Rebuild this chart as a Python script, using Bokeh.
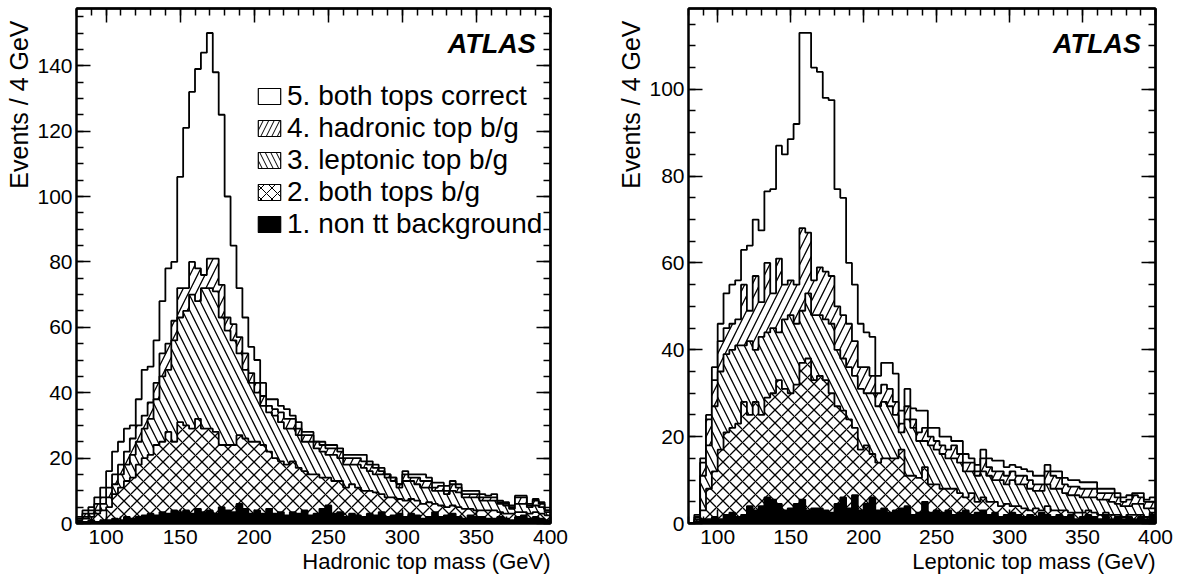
import numpy as np
from bokeh.plotting import figure
from bokeh.layouts import row
from bokeh.models import (Range1d, LinearAxis, SingleIntervalTicker, FixedTicker, Label,
                          Legend, LegendItem, Title)
from bokeh.embed import file_html
from bokeh.resources import INLINE

FONT = "Liberation Sans"

# ---------------- data (4 GeV bins from 80 to 400 GeV) ----------------
bin_lo, bin_hi, bin_w = 80, 400, 4

legend_labels = ["5. both tops correct", "4. hadronic top b/g", "3. leptonic top b/g",
                 "2. both tops b/g", "1. non tt background"]

# cumulative stack heights (Events / 4 GeV)
# hadronic top mass panel
had_s5 = [2, 4, 5, 8, 11, 16, 22, 25, 29, 30,
          38, 47, 48, 56, 68, 78, 80, 106, 121, 132,
          139, 144, 150, 138, 125, 100, 85, 72, 63, 54,
          50, 43, 38, 38, 36, 35, 33, 31, 28, 28,
          25, 25, 24, 24, 23, 21, 21, 21, 21, 19,
          18, 17, 15, 14, 12, 16, 15, 15, 15, 14,
          12.5, 12.5, 11.5, 13, 12, 10, 10, 10, 9, 8.5,
          9, 7, 6.5, 5.5, 8.5, 8.5, 6, 7.5, 6.5, 4]
had_s4 = [2, 3, 4, 6, 8, 11, 15, 18, 22, 26,
          30, 33, 37, 43, 52, 55, 62, 72, 72, 80,
          78, 76, 81, 81, 73, 63, 61, 57, 52, 46,
          43, 39, 36, 35, 34, 32, 32, 29, 27, 27,
          25, 24, 23, 23, 22, 20, 20, 20, 19, 18,
          17, 16, 15, 14, 12, 15, 14, 14, 13, 13,
          11, 11.5, 10, 12, 11, 9, 9, 9, 8, 8,
          8, 6.5, 6, 5, 8, 8, 5.5, 7, 6, 4]
had_s3 = [1.5, 2, 3, 4, 6, 8, 12, 15, 18, 21,
          25, 29, 32, 38, 45, 47, 56, 63, 65, 70,
          68, 72, 72, 71, 63, 59, 56, 52, 47, 43,
          40, 36, 34, 33, 31, 29, 29, 27, 25, 25,
          23, 22, 21, 21, 20, 18, 18, 18, 17, 16,
          15, 15, 14, 13, 11, 13, 13, 12, 11, 11,
          10, 10, 9, 10, 9.5, 8, 8, 8, 7, 7,
          7, 6, 5.5, 4.5, 6, 6, 5, 5.5, 5, 3.5]
had_s2 = [1, 1.5, 2, 3, 4, 5, 9, 11, 13, 14,
          18, 20, 21, 24, 25, 28, 25, 31, 30, 29,
          32, 29, 29, 28, 24, 24, 24, 27, 26, 25,
          25, 24, 22, 20, 19, 18, 19, 17, 16, 15,
          15, 14, 14, 13, 13, 11, 12, 11, 10, 10,
          9.5, 9, 8, 8, 7.5, 7, 7.5, 7, 6, 6.5,
          6, 5.5, 5, 5.5, 5, 4.5, 4.5, 4, 4, 4,
          4, 3.5, 3, 3, 3.5, 3.5, 3, 3.5, 3, 2.5]
had_s1 = [0.5, 0.5, 1, 0.5, 1, 1, 1.5, 1, 2, 1.5,
          2, 2.5, 3, 2.5, 3.5, 3, 4, 3.5, 4, 3,
          4.5, 3.5, 4, 3, 5, 4, 3.5, 6, 4.5, 3,
          4, 3, 4.5, 3, 3.5, 2.5, 3.5, 3, 4, 2.5,
          3, 4.5, 5.5, 3, 3.5, 2, 3, 2.5, 2, 3,
          2.5, 3.5, 2, 2.5, 3, 2, 3, 2.5, 1.5, 2,
          3.5, 2, 2.5, 3, 2, 1.5, 2.5, 2, 2, 1.5,
          1.5, 2, 1.5, 1, 2, 2.5, 1.5, 2, 1.5, 1]

# leptonic top mass panel
lep_s5 = [0, 2, 15, 25, 36, 46, 53, 55, 56, 63,
          64, 70, 67.5, 76.5, 77, 87, 85, 88.5, 92, 113,
          113, 105, 104, 98, 97.5, 77, 75, 60, 55, 46,
          44, 43, 34, 37, 37, 34.5, 26, 31, 26.5, 26,
          26, 22, 22, 20, 20, 19, 19, 16, 15, 13.5,
          17, 15, 14.5, 14.5, 13, 13.5, 13, 12.5, 12, 11,
          11, 13.5, 12, 12, 10.5, 10, 10, 9.5, 9.5, 9.5,
          8, 8, 8, 7, 6, 6.5, 7, 7, 5.5, 6]
lep_s4 = [0, 1.5, 14, 24, 33, 42, 45, 46, 47, 55,
          49, 57, 51, 60, 53, 61, 55, 56, 55, 68,
          67, 56, 59, 58, 57, 50, 48, 46, 42, 36,
          36, 34, 30, 32, 31, 28, 23, 27, 24, 21,
          22, 20, 19, 18, 17, 18, 16, 14, 14, 12,
          15, 13, 12, 12, 11, 12, 11, 11, 10, 9,
          9, 12, 11, 10.5, 9, 8.5, 8.5, 8, 8, 8,
          7, 7, 7, 6, 5, 5.5, 6.5, 6, 5, 5]
lep_s3 = [0, 1, 11, 18, 27, 35, 39, 40, 41, 41,
          42, 40, 43, 44, 45, 44, 47, 48, 46, 49,
          53, 48, 48, 47, 46, 40, 38, 36, 34, 31,
          30, 30, 27, 28, 27, 25, 21, 24, 22, 19,
          19, 18, 17, 16, 15, 15, 14, 12, 12, 11,
          12, 11, 10, 10, 9, 10, 9, 9, 8, 7.5,
          7.5, 9, 8, 8, 7, 6.5, 6.5, 6, 6, 6,
          5.5, 5.5, 5, 4.5, 4, 4, 4.5, 4.5, 3.5, 3.5]
lep_s2 = [0, 0.5, 3, 8, 12, 17, 21, 22, 23, 28,
          25, 28, 25, 29, 30, 33, 31, 30, 32, 37,
          38, 33, 34, 33, 30, 27, 26, 24, 22, 17,
          18, 16, 14, 15, 15, 15, 17, 11, 11, 10.5,
          13, 9, 9, 8, 8, 8, 7, 6, 7, 5,
          6, 5, 5, 4, 4.5, 4, 4, 3.5, 3, 3.5,
          3, 4, 3, 3, 3, 2.5, 2.5, 2.5, 3, 2.5,
          2, 2.5, 2, 2, 1.5, 2, 2, 2, 1.5, 2.5]
lep_s1 = [0, 0.5, 1, 1, 1.5, 1, 2, 2.5, 1.5, 2,
          4, 3, 4, 6, 5.5, 4.5, 3, 3.5, 4.5, 5.5,
          3, 3.5, 3.5, 3, 2.5, 4.5, 6, 3.5, 6.5, 3,
          4.5, 6, 3, 3.5, 2.5, 3, 3.5, 4, 2, 2.5,
          5, 2.5, 3, 2.5, 3, 2, 2.5, 3, 2, 2.5,
          3, 2, 2.5, 1.5, 2, 2.5, 2, 1.5, 2, 1.5,
          2.5, 2, 1.5, 2, 1.5, 2, 1, 1.5, 2, 1.5,
          1, 2, 1, 1.5, 1, 1.5, 1, 1.5, 1, 2]

x_major, x_minor = 50, 10
y_major, y_minor = 20, 5

# ---------------- styling ----------------
level_style = [("white", None), ("white", "right_diagonal_line"),
               ("white", "left_diagonal_line"), ("white", "diagonal_cross"),
               ("black", None)]
hatch_scales = {"right_diagonal_line": 15, "left_diagonal_line": 15, "diagonal_cross": 13}
edges = np.arange(bin_lo, bin_hi + bin_w, bin_w)

FIG_H = 576
FRAME_W, FRAME_H = 480, 515
BORDER_TOP = 8
BORDER_BOTTOM = FIG_H - BORDER_TOP - FRAME_H


def base_axis(ax):
    ax.axis_line_color = "black"
    ax.axis_line_width = 2
    ax.major_tick_out = 0
    ax.minor_tick_out = 0
    ax.major_tick_line_width = 1.5
    ax.minor_tick_line_width = 1.5
    ax.major_tick_line_color = "black"
    ax.minor_tick_line_color = "black"


def style_main_axis(ax, ticker, standoff):
    base_axis(ax)
    ax.ticker = ticker
    ax.major_tick_in = 14
    ax.minor_tick_in = 7
    ax.major_label_text_font = FONT
    ax.major_label_text_color = "black"
    ax.major_label_text_font_size = "21px"
    ax.major_label_standoff = standoff


def tick_only_axes(p, side, lo, hi, major, minor):
    # label-free frame ticks (ROOT style ticks on every side)
    majors = list(np.arange(np.ceil(lo / major) * major, hi + 1e-9, major))
    minors = list(np.arange(np.ceil(lo / minor) * minor, hi + 1e-9, minor))
    for ticks, length in ((majors, 14), (minors, 7)):
        ax = LinearAxis(ticker=FixedTicker(ticks=[], minor_ticks=ticks))
        base_axis(ax)
        ax.major_tick_in = 0
        ax.minor_tick_in = length
        ax.major_label_standoff = 0
        p.add_layout(ax, side)


def make_panel(stacks, ymax, xtitle, border_left, border_right, legend):
    p = figure(width=border_left + FRAME_W + border_right, height=FIG_H,
               x_range=Range1d(bin_lo, bin_hi), y_range=Range1d(0, ymax),
               output_backend="svg", toolbar_location=None,
               min_border_left=border_left, min_border_right=border_right,
               min_border_top=BORDER_TOP, min_border_bottom=BORDER_BOTTOM, title=None)
    p.xgrid.visible = False
    p.ygrid.visible = False
    p.outline_line_color = "black"
    p.outline_line_width = 2
    p.background_fill_color = "white"
    p.border_fill_color = "white"

    for vals, (fill, hatch) in zip(stacks, level_style):
        v = np.asarray(vals, dtype=float)
        y2 = np.append(v, v[-1])
        kw = dict(fill_color=fill)
        if hatch:
            kw.update(hatch_pattern=hatch, hatch_color="black",
                      hatch_scale=hatch_scales[hatch], hatch_weight=1.3)
        p.varea_step(x=edges, y1=np.zeros_like(y2), y2=y2, step_mode="after", **kw)
        xs = np.repeat(edges, 2)
        ys = np.concatenate([[0.0], np.repeat(v, 2), [0.0]])
        p.line(xs, ys, line_color="black", line_width=1.8)

    style_main_axis(p.xaxis[0], SingleIntervalTicker(interval=x_major, num_minor_ticks=5), 6)
    style_main_axis(p.yaxis[0], SingleIntervalTicker(interval=y_major, num_minor_ticks=4), 4)
    tick_only_axes(p, "above", bin_lo, bin_hi, x_major, x_minor)
    tick_only_axes(p, "right", 0, ymax, y_major, y_minor)

    # axis titles (ROOT style: aligned to the far end of the axis)
    p.add_layout(Title(text=xtitle, align="right", text_font=FONT, text_font_size="22px",
                       text_font_style="normal", text_color="black", standoff=0), "below")
    p.add_layout(Title(text="Events / 4 GeV", align="right", text_font=FONT,
                       text_font_size="25px", text_font_style="normal",
                       text_color="black", standoff=4, offset=12), "left")

    ppu = FRAME_H / ymax
    ppx = FRAME_W / (bin_hi - bin_lo)
    p.add_layout(Label(x=bin_lo + 465.0 / ppx, y=ymax - 35.0 / ppu, text="ATLAS",
                       text_font=FONT, text_font_size="27px", text_font_style="bold italic",
                       text_align="right", text_baseline="middle", text_color="black"))

    if legend:
        items = []
        for lab, (fill, hatch) in zip(legend_labels, level_style):
            kw = dict(fill_color=fill, line_color="black", line_width=1.2)
            if hatch:
                kw.update(hatch_pattern=hatch, hatch_color="black", hatch_scale=11,
                          hatch_weight=1)
            # placeholder glyph kept outside the visible x range; only used by the legend
            r = p.quad(left=[0], right=[1], top=[1], bottom=[0], **kw)
            items.append(LegendItem(label=lab, renderers=[r]))
        leg = Legend(items=items, location=(179, 283), glyph_width=28, glyph_height=20,
                     label_text_font=FONT, label_text_font_size="28px",
                     label_text_color="black", label_standoff=4, spacing=0,
                     padding=0, margin=0, border_line_color=None,
                     background_fill_alpha=0, label_text_baseline="middle")
        p.add_layout(leg)
    return p


p1 = make_panel([had_s5, had_s4, had_s3, had_s2, had_s1], 157.5,
                "Hadronic top mass (GeV)", 70, 62, True)
p2 = make_panel([lep_s5, lep_s4, lep_s3, lep_s2, lep_s1], 118.6,
                "Leptonic top mass (GeV)", 63, 30, False)

layout = row(p1, p2)
open("out.html", "w").write(file_html(layout, INLINE))
